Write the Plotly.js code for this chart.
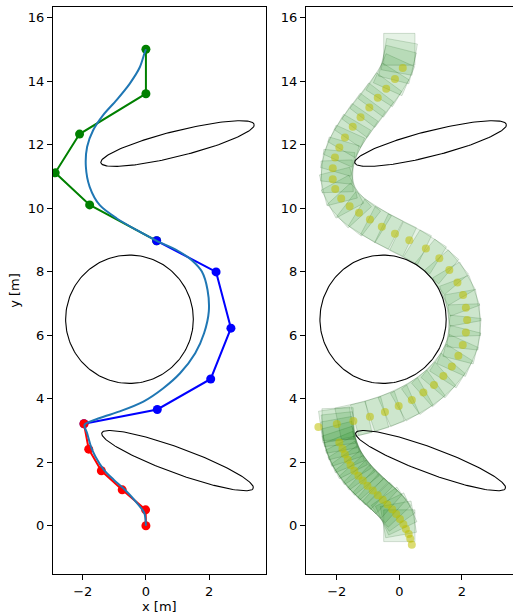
<!DOCTYPE html>
<html><head><meta charset="utf-8">
<script src="https://cdn.plot.ly/plotly-3.0.1.min.js"></script>
<style>html,body{margin:0;padding:0;background:#fff}#chart{width:513px;height:614px}</style>
</head><body><div id="chart"></div>
<script>
// ---- Left panel: waypoint segments ----
const greenX = [0, 0, -2.10, -2.87, -1.78, 0.34];
const greenY = [15.0, 13.6, 12.33, 11.11, 10.10, 8.97];
const blueX = [0.34, 2.22, 2.69, 2.05, 0.36, -1.96];
const blueY = [8.97, 7.99, 6.22, 4.62, 3.66, 3.21];
const redX = [-1.96, -1.81, -1.41, -0.75, -0.01, 0];
const redY = [3.21, 2.41, 1.73, 1.13, 0.50, 0];

// smooth path (left panel)
const curveX = [0, -0.05, -0.33, -0.68, -1.02, -1.33, -1.60, -1.74, -1.86, -1.94, -1.46, -0.83, -0.08, 0.55, 1.08, 1.56, 1.84, 1.99, 1.95, 1.77, 1.45, 0.97, 0.34, -0.30, -0.93, -1.46, -1.78, -1.90, -1.86, -1.67, -1.36, -0.93, -0.51, -0.19, -0.05, 0];
const curveY = [0, 0.40, 0.77, 1.15, 1.45, 1.76, 2.18, 2.49, 2.91, 3.18, 3.39, 3.60, 3.91, 4.33, 4.80, 5.43, 6.06, 6.75, 7.42, 8.00, 8.36, 8.68, 8.97, 9.31, 9.68, 10.09, 10.67, 11.30, 11.93, 12.45, 12.92, 13.40, 13.92, 14.44, 14.86, 15.0];

// ---- Obstacles (center x, center y, semi-axis a, semi-axis b, angle deg) ----
const obsCX = [-0.52, 1.0, 1.0];
const obsCY = [6.5, 12.03, 2.05];
const obsA = [2.02, 2.5, 2.55];
const obsB = [2.02, 0.4, 0.4];
const obsAngle = [0, 14, -20];

// ---- Right panel: robot footprints (center, heading deg), side length ----
const rectX = [0, -0.03, -0.10, -0.20, -0.33, -0.47, -0.62, -0.77, -0.93, -1.08, -1.22, -1.35, -1.48, -1.59, -1.69, -1.77, -1.84, -1.89, -1.93, -1.95, -1.96,
  -2.02, -1.47, -0.95, -0.47, -0.02, 0.40, 0.77, 1.10, 1.40, 1.66, 1.86, 2.00, 2.07, 2.08, 2.03, 1.93, 1.75, 1.51, 1.20, 0.82, 0.36, -0.12,
  -0.56, -0.94, -1.30, -1.60, -1.82, -1.95, -1.99, -1.97, -1.90, -1.77, -1.60, -1.38, -1.14, -0.88, -0.62, -0.38, -0.17, -0.06, 0.0, 0.0];
const rectY = [0, 0.20, 0.37, 0.52, 0.66, 0.80, 0.94, 1.08, 1.22, 1.36, 1.51, 1.66, 1.82, 1.98, 2.15, 2.32, 2.50, 2.68, 2.86, 3.04, 3.20,
  3.18, 3.32, 3.45, 3.60, 3.78, 3.98, 4.20, 4.45, 4.73, 5.03, 5.36, 5.70, 6.08, 6.47, 6.86, 7.24, 7.62, 7.98, 8.32, 8.62, 8.90, 9.15,
  9.38, 9.60, 9.82, 10.08, 10.36, 10.68, 11.00, 11.30, 11.62, 11.95, 12.27, 12.60, 12.92, 13.24, 13.56, 13.88, 14.20, 14.52, 14.76, 15.0];
const rectH = [90, 100, 115, 125, 133, 137, 138, 137, 136, 134, 131, 128, 125, 121, 116, 112, 108, 104, 100, 96, 92,
  8, 12, 15, 19, 24, 30, 36, 42, 50, 58, 66, 76, 84, 92, 100, 110, 120, 130, 140, 148, 154, 154,
  152, 148, 142, 132, 118, 104, 92, 84, 74, 66, 60, 56, 54, 53, 54, 58, 66, 76, 80, 90];
const rectSide = 1.0;

// tracked points (yellow)
const dotX = [0.40, 0.35, 0.30, 0.21, 0.13, 0.02, -0.10, -0.23, -0.38, -0.53, -0.69, -0.85, -1.02, -1.17, -1.31, -1.44, -1.56, -1.65, -1.74, -1.82, -1.92,
  -2.59, -2.00, -1.47, -0.94, -0.46, -0.02, 0.40, 0.77, 1.11, 1.41, 1.68, 1.89, 2.03, 2.13, 2.17, 2.13, 2.04, 1.86, 1.60, 1.28, 0.85, 0.32,
  -0.14, -0.56, -0.94, -1.29, -1.59, -1.86, -2.05, -2.13, -2.13, -2.06, -1.92, -1.74, -1.49, -1.24, -0.96, -0.69, -0.42, -0.14, 0.11];
const dotY = [-0.60, -0.41, -0.26, -0.10, 0.05, 0.21, 0.37, 0.52, 0.67, 0.82, 0.96, 1.11, 1.26, 1.42, 1.57, 1.73, 1.90, 2.08, 2.25, 2.42, 2.62,
  3.11, 3.20, 3.30, 3.43, 3.58, 3.77, 3.96, 4.19, 4.43, 4.71, 5.01, 5.35, 5.69, 6.08, 6.48, 6.86, 7.26, 7.66, 8.05, 8.42, 8.73, 8.99,
  9.19, 9.41, 9.64, 9.85, 10.06, 10.30, 10.60, 10.91, 11.25, 11.59, 11.91, 12.22, 12.56, 12.86, 13.17, 13.47, 13.76, 14.06, 14.41];

const xTicks = [-2, 0, 2];
const yTicks = [0, 2, 4, 6, 8, 10, 12, 14, 16];

// ---- build traces ----
function ellipsePts(i) {
  const xs = [], ys = [];
  const th = obsAngle[i] * Math.PI / 180;
  for (let k = 0; k <= 180; k++) {
    const t = 2 * Math.PI * k / 180;
    const ex = obsA[i] * Math.cos(t), ey = obsB[i] * Math.sin(t);
    xs.push(obsCX[i] + ex * Math.cos(th) - ey * Math.sin(th));
    ys.push(obsCY[i] + ex * Math.sin(th) + ey * Math.cos(th));
  }
  return [xs, ys];
}
const traces = [];
// right panel footprints
for (let i = 0; i < rectX.length; i++) {
  const th = rectH[i] * Math.PI / 180, h = rectSide / 2;
  const loc = [[h, h], [-h, h], [-h, -h], [h, -h], [h, h]];
  const xs = [], ys = [];
  loc.forEach(([u, v]) => {
    xs.push(rectX[i] + u * Math.cos(th) - v * Math.sin(th));
    ys.push(rectY[i] + u * Math.sin(th) + v * Math.cos(th));
  });
  traces.push({x: xs, y: ys, xaxis: 'x2', yaxis: 'y2', mode: 'lines', fill: 'toself',
    fillcolor: 'rgba(0,128,0,0.1)', line: {color: 'rgba(0,70,0,0.16)', width: 1}, hoverinfo: 'skip', showlegend: false});
}
traces.push({x: dotX, y: dotY, xaxis: 'x2', yaxis: 'y2', mode: 'markers',
  marker: {color: 'rgba(191,191,0,0.55)', size: 8, line: {width: 0}}, showlegend: false});
for (let i = 0; i < obsCX.length; i++) {
  const [xs, ys] = ellipsePts(i);
  traces.push({x: xs, y: ys, xaxis: 'x', yaxis: 'y', mode: 'lines', line: {color: '#000', width: 1.1}, showlegend: false, hoverinfo: 'skip'});
  traces.push({x: xs, y: ys, xaxis: 'x2', yaxis: 'y2', mode: 'lines', line: {color: '#000', width: 1.1}, showlegend: false, hoverinfo: 'skip'});
}
// left panel
[[greenX, greenY, '#008000'], [blueX, blueY, '#0000ff'], [redX, redY, '#ff0000']].forEach(([xs, ys, c]) => {
  traces.push({x: xs, y: ys, xaxis: 'x', yaxis: 'y', mode: 'lines+markers', line: {color: c, width: 2}, marker: {color: c, size: 9}, showlegend: false});
});
traces.push({x: curveX, y: curveY, xaxis: 'x', yaxis: 'y', mode: 'lines', line: {color: '#1f77b4', width: 2, shape: 'spline', smoothing: 0.8}, showlegend: false});

const tickFont = {family: 'DejaVu Sans', size: 13, color: '#000'};
const axBase = {showgrid: false, zeroline: false, showline: true, mirror: true, linecolor: '#000', linewidth: 1,
  ticks: 'outside', ticklen: 5, tickwidth: 1, tickcolor: '#000', tickfont: tickFont, tickmode: 'array'};

const layout = {
  width: 513, height: 614,
  margin: {l: 0, r: 0, t: 7, b: 40},
  paper_bgcolor: '#fff', plot_bgcolor: '#fff',
  font: {family: 'DejaVu Sans', size: 13, color: '#000'},
  showlegend: false,
  xaxis: Object.assign({}, axBase, {domain: [53/513, 265.7/513], range: [-2.94, 3.79], tickvals: xTicks, anchor: 'y',
    title: {text: 'x [m]', font: {family: 'DejaVu Sans', size: 13, color: '#000'}, standoff: 5}}),
  yaxis: Object.assign({}, axBase, {domain: [0, 1], range: [-1.52, 16.33], tickvals: yTicks, anchor: 'x',
    title: {text: 'y [m]', font: {family: 'DejaVu Sans', size: 13, color: '#000'}, standoff: 5}}),
  xaxis2: Object.assign({}, axBase, {domain: [306/513, 1], range: [-2.986, 3.638], tickvals: xTicks, anchor: 'y2'}),
  yaxis2: Object.assign({}, axBase, {domain: [0, 1], range: [-1.52, 16.33], tickvals: yTicks, anchor: 'x2', mirror: false})
};
Plotly.newPlot('chart', traces, layout, {displayModeBar: false, staticPlot: true});
</script></body></html>
